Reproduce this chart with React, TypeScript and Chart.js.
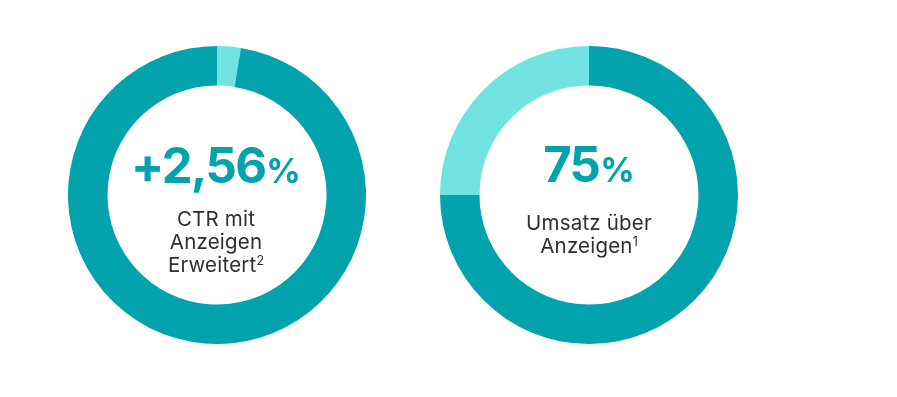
import React, { useEffect, useRef } from "react";
import { Chart, registerables } from "chart.js";

Chart.register(...registerables);

const DARK = "#02A3AC";
const LIGHT = "#71E3E0";

// Chart 1: CTR mit Anzeigen Erweitert
const ctrLabels = ["Zuwachs", "Basis"];
const ctrValues = [2.56, 97.44];
const ctrColors = [LIGHT, DARK];

// Chart 2: Umsatz über Anzeigen
const salesLabels = ["Über Anzeigen", "Sonstige"];
const salesValues = [75, 25];
const salesColors = [DARK, LIGHT];

function Donut(props: { labels: string[]; values: number[]; colors: string[]; left: number; top: number; size: number }) {
  const ref = useRef<HTMLCanvasElement | null>(null);
  useEffect(() => {
    if (!ref.current) return;
    const chart = new Chart(ref.current, {
      type: "doughnut",
      data: {
        labels: props.labels,
        datasets: [
          {
            data: props.values,
            backgroundColor: props.colors,
            borderWidth: 0,
            hoverOffset: 0,
          },
        ],
      },
      options: {
        responsive: false,
        animation: false,
        cutout: "73.5%",
        plugins: { legend: { display: false }, tooltip: { enabled: false } },
        layout: { padding: 0 },
      },
    });
    return () => chart.destroy();
  }, []);
  return (
    <canvas
      ref={ref}
      width={props.size}
      height={props.size}
      style={{ position: "absolute", left: props.left, top: props.top, width: props.size, height: props.size }}
    />
  );
}

const font = "Inter, 'Noto Sans', sans-serif";

function CenterText(props: { cx: number; bigTop: number; big: string; subTop: number; lines: React.ReactNode[] }) {
  return (
    <>
      <div
        style={{
          position: "absolute",
          left: props.cx - 150,
          width: 300,
          top: props.bigTop,
          textAlign: "center",
          fontFamily: font,
          fontWeight: 700,
          fontSize: 49,
          lineHeight: "49px",
          letterSpacing: "-1.6px",
          color: DARK,
          whiteSpace: "nowrap",
        }}
      >
        {props.big}
        <span style={{ fontSize: 34, fontWeight: 700, letterSpacing: 0, marginLeft: 1 }}>%</span>
      </div>
      <div
        style={{
          position: "absolute",
          left: props.cx - 150,
          width: 300,
          top: props.subTop,
          textAlign: "center",
          fontFamily: font,
          fontWeight: 400,
          fontSize: 20.5,
          lineHeight: "23px",
          letterSpacing: "0.2px",
          color: "#2e2e2e",
          whiteSpace: "nowrap",
        }}
      >
        {props.lines.map((l, i) => (
          <div key={i}>{l}</div>
        ))}
      </div>
    </>
  );
}

const sup = (t: string) => (
  <span style={{ fontSize: 12.5, position: "relative", top: -7, letterSpacing: 0 }}>{t}</span>
);

export default function App() {
  return (
    <div style={{ position: "absolute", left: 0, top: 0, width: 897, height: 397, background: "#fff", overflow: "hidden" }}>
      <Donut labels={ctrLabels} values={ctrValues} colors={ctrColors} left={68} top={46} size={298} />
      <Donut labels={salesLabels} values={salesValues} colors={salesColors} left={440} top={46} size={298} />
      <CenterText
        cx={216}
        bigTop={141}
        big="+2,56"
        subTop={207}
        lines={["CTR mit", "Anzeigen", <>Erweitert{sup("2")}</>]}
      />
      <CenterText
        cx={589}
        bigTop={140}
        big="75"
        subTop={211}
        lines={["Umsatz über", <>Anzeigen{sup("1")}</>]}
      />
    </div>
  );
}
